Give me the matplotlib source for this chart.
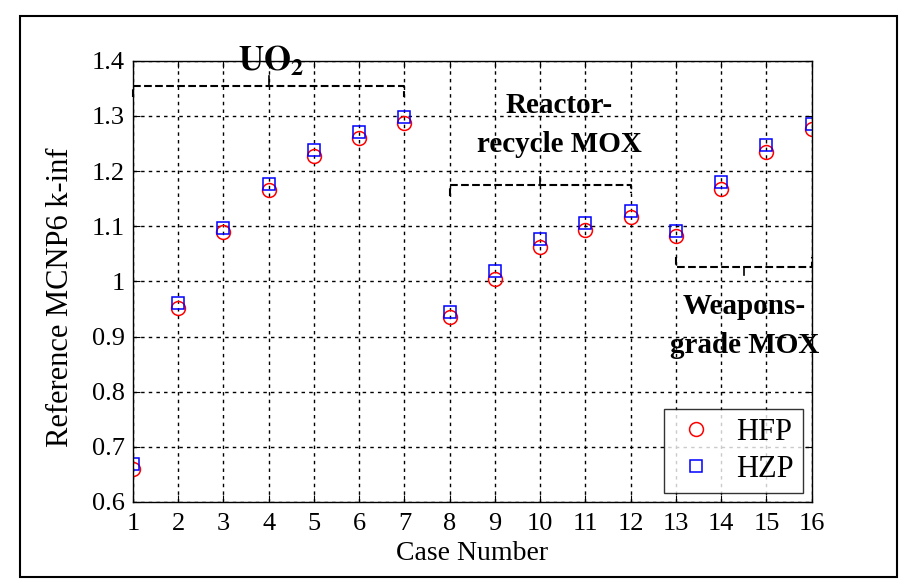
#!/usr/bin/env python3

import matplotlib
matplotlib.use('Agg')
import matplotlib.pyplot as plt
from matplotlib.patches import Rectangle

# 数据
cases = list(range(1, 17))
hfp = [0.660, 0.952, 1.089, 1.166, 1.227, 1.260, 1.288, 0.936, 1.005,
       1.063, 1.093, 1.116, 1.082, 1.167, 1.235, 1.276]
hzp = [0.668, 0.960, 1.097, 1.176, 1.238, 1.271, 1.298, 0.944, 1.019,
       1.076, 1.105, 1.127, 1.091, 1.180, 1.248, 1.286]
yticks = [0.6, 0.7, 0.8, 0.9, 1.0, 1.1, 1.2, 1.3, 1.4]
ytick_labels = ['0.6', '0.7', '0.8', '0.9', '1', '1.1', '1.2', '1.3', '1.4']

plt.rcParams['font.family'] = ['Liberation Serif', 'DejaVu Serif']
plt.rcParams['mathtext.fontset'] = 'stix'

fig = plt.figure(figsize=(9.1, 5.82), dpi=100)
ax = fig.add_axes([0.146, 0.1375, 0.746, 0.758])

# 外框
fig.patches.append(Rectangle((20 / 910, 5 / 582), 877 / 910, 561 / 582,
                             transform=fig.transFigure, fill=False,
                             edgecolor='black', linewidth=1.5))

ax.plot(cases, hfp, 'o', mfc='none', mec='red', ms=10, mew=1.1, label='HFP')
ax.plot(cases, hzp, 's', mfc='none', mec='blue', ms=8.5, mew=1.1, label='HZP')

ax.set_xlim(1, 16)
ax.set_ylim(0.6, 1.4)
ax.set_xticks(cases)
ax.set_yticks(yticks)
ax.set_yticklabels(ytick_labels)
ax.tick_params(direction='in', top=True, right=True, labelsize=19, length=5)
ax.tick_params(axis='x', pad=8)
ax.tick_params(axis='y', pad=6)
ax.grid(True, linestyle=(0, (2.5, 3)), color='black', linewidth=1.0)
for s in ax.spines.values():
    s.set_linewidth(1.0)

ax.set_xlabel('Case Number', fontsize=20, labelpad=4)
ax.set_ylabel('Reference MCNP6 k-inf', fontsize=22)
ax.yaxis.set_label_coords(-0.085, 0.465)

# 分组括号
bk = dict(color='black', linestyle='--', linewidth=1.5, clip_on=False)
ax.plot([1, 1, 7, 7], [1.335, 1.355, 1.355, 1.335], **bk)
ax.plot([4, 4], [1.355, 1.372], color='black', linewidth=1.2, clip_on=False)
ax.text(4.05, 1.398, r'$\mathbf{UO_2}$', fontsize=25, ha='center', va='center')

ax.plot([8, 8, 12, 12], [1.155, 1.175, 1.175, 1.16], **bk)
ax.plot([10, 10], [1.175, 1.19], color='black', linewidth=1.2)
ax.text(10.43, 1.284, 'Reactor-\nrecycle MOX', fontsize=21, fontweight='bold',
        ha='center', va='center', linespacing=1.55)

ax.plot([13, 13, 16, 16], [1.045, 1.027, 1.027, 1.045], **bk)
ax.plot([14.5, 14.5], [1.027, 1.012], color='black', linewidth=1.2)
ax.text(14.52, 0.919, 'Weapons-\ngrade MOX', fontsize=21, fontweight='bold',
        ha='center', va='center', linespacing=1.55)

leg = ax.legend(loc='lower right', fontsize=22, frameon=True, fancybox=False,
                edgecolor='black', borderpad=0.3, labelspacing=0.25,
                handlelength=1.5, handletextpad=0.55, borderaxespad=0.3)
leg.get_frame().set_linewidth(1.0)

plt.savefig('out.png', dpi=100)
plt.close()
